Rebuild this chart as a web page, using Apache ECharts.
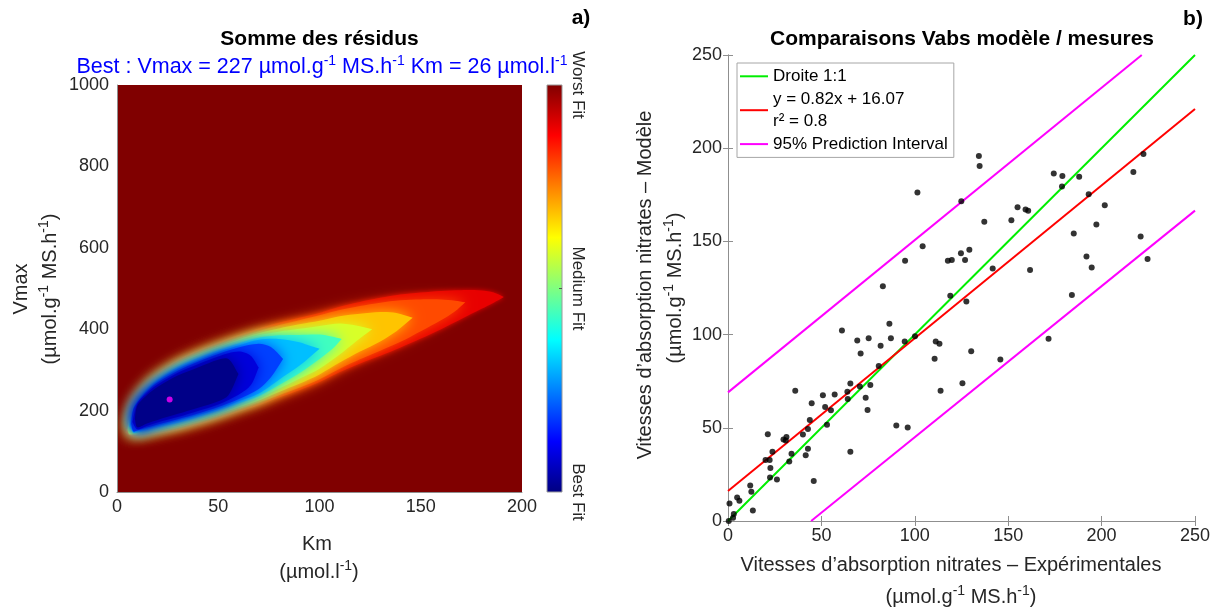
<!DOCTYPE html>
<html>
<head>
<meta charset="utf-8">
<script src="https://cdn.jsdelivr.net/npm/echarts@6/dist/echarts.min.js"></script>
<style>
html, body { margin: 0; padding: 0; background: #fff; }
#chart { width: 1217px; height: 612px; }
</style>
</head>
<body>
<div id="chart"></div>
<script>
const FONT = '"Liberation Sans", Arial, Helvetica, sans-serif';

// a) residual map, read as filled contour bands (outermost first)
const contourColors = ['#e80000', '#ff4a00', '#ffc400', '#d8ff28', '#40ffbf', '#00bfff', '#0040ff', '#0000db', '#000088'];
const contourKm = [
    [4.3, 6, 8, 10, 15, 20, 30, 40, 50, 60, 70, 80, 90, 100, 110, 120, 130, 140, 150, 160, 170, 180, 186, 191],
    [4.8, 6, 8, 10, 15, 20, 30, 40, 50, 60, 70, 80, 90, 100, 110, 120, 130, 140, 150, 160, 167, 172],
    [5.2, 6, 8, 10, 15, 20, 30, 40, 50, 60, 70, 80, 90, 100, 110, 120, 130, 138, 146],
    [5.5, 6, 8, 10, 15, 20, 30, 40, 50, 60, 70, 80, 90, 100, 110, 118, 126],
    [6, 8, 10, 15, 20, 30, 40, 50, 60, 70, 80, 90, 100, 106, 111],
    [6.5, 8, 10, 15, 20, 30, 40, 50, 60, 70, 80, 90, 96, 100],
    [7, 8, 10, 15, 20, 30, 40, 50, 60, 70, 76, 82],
    [7.6, 10, 15, 20, 30, 40, 50, 60, 66, 70],
    [8.8, 10, 15, 20, 30, 40, 50, 55, 60]
];
const contourUpper = [
    [146, 185, 215, 235, 268, 292, 325, 348, 368, 386, 402, 416, 428, 440, 455, 467, 477, 485, 490, 494, 496, 495, 490, 479],
    [150, 183, 212, 232, 264, 287, 319, 342, 361, 379, 395, 410, 422, 434, 447, 457, 465, 471, 473, 473, 470, 466],
    [153, 181, 210, 229, 261, 283, 315, 338, 357, 375, 390, 402, 412, 421, 432, 438, 442, 440, 428],
    [156, 179, 208, 227, 258, 280, 311, 333, 353, 370, 385, 394, 401, 408, 414, 409, 400],
    [162, 206, 225, 255, 276, 307, 329, 348, 365, 379, 385, 386, 387, 382, 376],
    [165, 204, 222, 251, 273, 303, 324, 344, 360, 374, 376, 368, 358, 352],
    [168, 202, 220, 248, 269, 298, 320, 339, 355, 364, 356, 327],
    [172, 217, 244, 264, 293, 314, 333, 345, 335, 306],
    [180, 212, 239, 258, 286, 306, 325, 327, 290]
];
const contourLower = [
    [146, 138, 136, 136, 139, 143, 152, 165, 180, 197, 213, 232, 250, 270, 295, 316, 335, 355, 377, 400, 425, 450, 465, 479],
    [150, 140, 139, 140, 144, 148, 158, 171, 187, 204, 220, 238, 256, 277, 303, 326, 347, 369, 395, 422, 444, 466],
    [153, 142, 141, 142, 146, 152, 162, 176, 191, 208, 225, 246, 266, 289, 318, 345, 370, 395, 428],
    [156, 144, 143, 144, 149, 155, 166, 180, 195, 213, 231, 254, 278, 303, 338, 370, 400],
    [162, 145, 146, 153, 159, 170, 184, 200, 218, 236, 263, 292, 327, 350, 376],
    [165, 147, 149, 156, 162, 175, 189, 204, 223, 242, 276, 310, 335, 352],
    [168, 149, 151, 159, 166, 179, 193, 209, 228, 253, 282, 327],
    [172, 154, 163, 171, 184, 199, 215, 239, 262, 306],
    [180, 159, 169, 177, 192, 207, 223, 238, 290]
];
const bestPoint = [[26, 227]];

// b) model vs measured uptake rates
const expX = [0.4, 0.8, 3.1, 2.7, 4.9, 6.1, 11.9, 12.5, 13.3, 20.1, 21.3, 22.3, 22.7, 22.5, 23.8, 26.2, 29.7, 31.3, 30.9, 32.8,
    34.0, 36.0, 40.1, 41.6, 42.8, 42.8, 43.8, 44.8, 45.9, 50.8, 52.0, 53.0, 55.1, 57.1, 61.0, 63.9, 64.1, 65.5, 65.5, 69.2,
    70.6, 71.0, 73.7, 74.7, 75.3, 76.2, 80.7, 81.7, 82.9, 86.4, 87.2, 90.1, 94.6, 94.8, 96.2, 100.1, 101.4, 104.2, 110.6, 111.2,
    113.2, 113.8, 117.7, 119.8, 119.0, 124.9, 124.7, 125.5, 126.9, 127.6, 129.2, 130.2, 134.3, 134.7, 137.2, 141.7, 145.8, 151.7, 155.0, 159.3,
    160.7, 161.7, 171.6, 174.4, 179.0, 178.8, 184.1, 185.1, 188.0, 191.9, 193.1, 194.7, 197.2, 201.7, 217.0, 220.9, 222.4, 224.6];
const modY = [0, 9.4, 3.8, 1.7, 12.6, 10.9, 19.1, 15.7, 5.7, 32.7, 46.6, 32.7, 28.5, 23.3, 37.2, 22.3, 43.7, 45.1, 43.2, 31.9,
    36.1, 69.9, 46.4, 35.3, 38.8, 49.3, 54.2, 63.2, 21.4, 67.4, 61.1, 51.6, 59.4, 67.8, 102.2, 69.3, 65.5, 73.7, 37.2, 96.8,
    72.2, 89.8, 66.1, 59.6, 98.0, 73.0, 83.1, 94.0, 125.9, 105.8, 98.0, 51.2, 96.3, 139.6, 50.2, 99.1, 176.3, 147.4, 87.1, 96.3,
    95.1, 69.9, 139.6, 140.0, 120.9, 171.5, 143.6, 73.9, 140.0, 117.8, 145.5, 91.1, 195.8, 190.4, 160.6, 135.4, 86.7, 161.4, 168.3, 167.1,
    166.5, 134.6, 97.8, 186.4, 185.1, 179.5, 121.3, 154.3, 184.7, 141.9, 175.3, 136.0, 159.1, 169.4, 187.2, 152.6, 196.9, 140.6];
const lineOneToOne = [[0, 0], [250, 250]];
const lineFit = [[0, 16.1], [250, 221]];
const linePiUpper = [[0, 69], [221.5, 250]];
const linePiLower = [[44.5, 0], [250, 166.5]];
const fitName = 'y = 0.82x + 16.07\nr² = 0.8';

const supRich = { s: { fontSize: 14, verticalAlign: 'top', lineHeight: 14, fontFamily: FONT } };
const axisGray = '#8f8f8f';
const tickText = { fontSize: 18, color: '#262626', fontFamily: FONT, formatter: v => String(v) };

function renderContour(params, api) {
    const i = params.dataIndex;
    const km = contourKm[i], up = contourUpper[i], lo = contourLower[i];
    const pts = [];
    for (let j = 0; j < km.length; j++) pts.push(api.coord([km[j], up[j]]));
    for (let j = km.length - 1; j >= 0; j--) pts.push(api.coord([km[j], lo[j]]));
    return {
        type: 'polygon',
        shape: { points: pts, smooth: 0.3 },
        // soft edges so the bands blend like the original continuous map
        style: { fill: contourColors[i], shadowBlur: i === 0 ? 5 : 14, shadowColor: contourColors[i] }
    };
}

function text(x, y, str, size, opts) {
    return Object.assign({
        type: 'text', x: x, y: y, silent: true,
        style: Object.assign({
            text: str, fontSize: size, fontFamily: FONT, fill: '#262626',
            align: 'center', verticalAlign: 'middle', rich: supRich, lineHeight: 26
        }, opts && opts.style)
    }, opts && opts.el);
}

let chart = echarts.init(document.getElementById('chart'));

let option = {
    animation: false,
    textStyle: { fontFamily: FONT },
    grid: [
        { left: 117, top: 85, width: 405, height: 407, show: true, backgroundColor: '#800000', borderWidth: 0 },
        { left: 728, top: 55, width: 467, height: 466 }
    ],
    legend: {
        data: ['Droite 1:1', fitName, '95% Prediction Interval'],
        orient: 'vertical', left: 737, top: 63,
        icon: 'rect', itemWidth: 28, itemHeight: 2, itemGap: 0,
        padding: [2, 6, 2, 3],
        backgroundColor: '#fff', borderColor: '#a6a6a6', borderWidth: 1,
        selectedMode: false,
        textStyle: { fontSize: 17, color: '#000', lineHeight: 22.6, fontFamily: FONT }
    },
    xAxis: [
        { gridIndex: 0, type: 'value', min: 0, max: 200, interval: 50,
          axisLine: { lineStyle: { color: axisGray } }, axisTick: { show: false }, splitLine: { show: false },
          axisLabel: Object.assign({ margin: 6 }, tickText) },
        { gridIndex: 1, type: 'value', min: 0, max: 250, interval: 50,
          axisLine: { lineStyle: { color: axisGray } }, axisTick: { inside: true, length: 5, lineStyle: { color: axisGray } },
          splitLine: { show: false }, axisLabel: Object.assign({ margin: 6 }, tickText) },
        { gridIndex: 1, type: 'value', position: 'top', min: 0, max: 250, interval: 50,
          axisLine: { lineStyle: { color: axisGray } }, axisTick: { inside: true, length: 5, lineStyle: { color: axisGray } },
          splitLine: { show: false }, axisLabel: { show: false } }
    ],
    yAxis: [
        { gridIndex: 0, type: 'value', min: 0, max: 1000, interval: 200,
          axisLine: { show: true, lineStyle: { color: axisGray } }, axisTick: { show: false }, splitLine: { show: false },
          axisLabel: Object.assign({ margin: 8 }, tickText) },
        { gridIndex: 1, type: 'value', min: 0, max: 250, interval: 50,
          axisLine: { show: true, lineStyle: { color: axisGray } }, axisTick: { show: true, inside: true, length: 5, lineStyle: { color: axisGray } },
          splitLine: { show: false }, axisLabel: Object.assign({ margin: 6 }, tickText) },
        { gridIndex: 1, type: 'value', position: 'right', min: 0, max: 250, interval: 50,
          axisLine: { show: true, lineStyle: { color: axisGray } }, axisTick: { show: true, inside: true, length: 5, lineStyle: { color: axisGray } },
          splitLine: { show: false }, axisLabel: { show: false } }
    ],
    series: [
        {
            type: 'custom', name: 'residus', xAxisIndex: 0, yAxisIndex: 0, clip: true,
            renderItem: renderContour,
            encode: { x: 0, y: 1 },
            data: contourKm.map((k, i) => [k[0], contourUpper[i][0]])
        },
        {
            type: 'scatter', name: 'best', xAxisIndex: 0, yAxisIndex: 0,
            symbolSize: 6, itemStyle: { color: '#ff00ff' }, data: bestPoint, z: 5
        },
        {
            type: 'line', name: 'Droite 1:1', xAxisIndex: 1, yAxisIndex: 1, symbol: 'none',
            color: '#00ee00', lineStyle: { width: 2, color: '#00ee00' }, data: lineOneToOne
        },
        {
            type: 'line', name: fitName, xAxisIndex: 1, yAxisIndex: 1, symbol: 'none',
            color: '#ff0000', lineStyle: { width: 2, color: '#ff0000' }, data: lineFit
        },
        {
            type: 'line', name: '95% Prediction Interval', xAxisIndex: 1, yAxisIndex: 1, symbol: 'none',
            color: '#ff00ff', lineStyle: { width: 2, color: '#ff00ff' }, data: linePiUpper
        },
        {
            type: 'line', name: '95% Prediction Interval', xAxisIndex: 1, yAxisIndex: 1, symbol: 'none',
            color: '#ff00ff', lineStyle: { width: 2, color: '#ff00ff' }, data: linePiLower
        },
        {
            type: 'scatter', name: 'mesures', xAxisIndex: 1, yAxisIndex: 1,
            symbolSize: 6, itemStyle: { color: '#000' }, z: 4,
            data: expX.map((x, i) => [x, modY[i]])
        }
    ],
    graphic: [
        // colorbar
        { type: 'rect', shape: { x: 547, y: 85, width: 15, height: 407 }, silent: true,
          style: {
            fill: new echarts.graphic.LinearGradient(0, 0, 0, 1, [
                { offset: 0, color: '#800000' }, { offset: 0.125, color: '#ff0000' },
                { offset: 0.25, color: '#ff8000' }, { offset: 0.375, color: '#ffff00' },
                { offset: 0.5, color: '#80ff80' }, { offset: 0.625, color: '#00ffff' },
                { offset: 0.75, color: '#0080ff' }, { offset: 0.875, color: '#0000ff' },
                { offset: 1, color: '#000080' }
            ]),
            stroke: '#9a9a9a', lineWidth: 1
          } },
        { type: 'line', shape: { x1: 559, y1: 288.5, x2: 562, y2: 288.5 }, silent: true, style: { stroke: '#555', lineWidth: 1 } },
        text(578, 85, 'Worst Fit', 17, { el: { rotation: -Math.PI / 2 } }),
        text(578, 288.5, 'Medium Fit', 17, { el: { rotation: -Math.PI / 2 } }),
        text(578, 492, 'Best Fit', 17, { el: { rotation: -Math.PI / 2 } }),

        // panel a texts
        text(319.5, 39, 'Somme des résidus', 21, { style: { fontWeight: 'bold', fill: '#000' } }),
        text(322, 67, 'Best : Vmax = 227 µmol.g{s|-1} MS.h{s|-1} Km = 26 µmol.l{s|-1}', 21.5, { style: { fill: '#0000ff' } }),
        text(581, 18, 'a)', 21, { style: { fontWeight: 'bold', fill: '#000' } }),
        text(317, 544, 'Km', 20),
        text(319, 572, '(µmol.l{s|-1})', 20),
        text(21, 289, 'Vmax', 20, { el: { rotation: Math.PI / 2 } }),
        text(50, 289, '(µmol.g{s|-1} MS.h{s|-1})', 20, { el: { rotation: Math.PI / 2 } }),

        // panel b texts
        text(962, 39, 'Comparaisons Vabs modèle / mesures', 21, { style: { fontWeight: 'bold', fill: '#000' } }),
        text(1193, 19, 'b)', 21, { style: { fontWeight: 'bold', fill: '#000' } }),
        text(951, 565, 'Vitesses d’absorption nitrates – Expérimentales', 20),
        text(961, 597, '(µmol.g{s|-1} MS.h{s|-1})', 20),
        text(645, 285, 'Vitesses d’absorption nitrates – Modèle', 20, { el: { rotation: Math.PI / 2 } }),
        text(675, 288, '(µmol.g{s|-1} MS.h{s|-1})', 20, { el: { rotation: Math.PI / 2 } })
    ]
};

chart.setOption(option);
</script>
</body>
</html>
